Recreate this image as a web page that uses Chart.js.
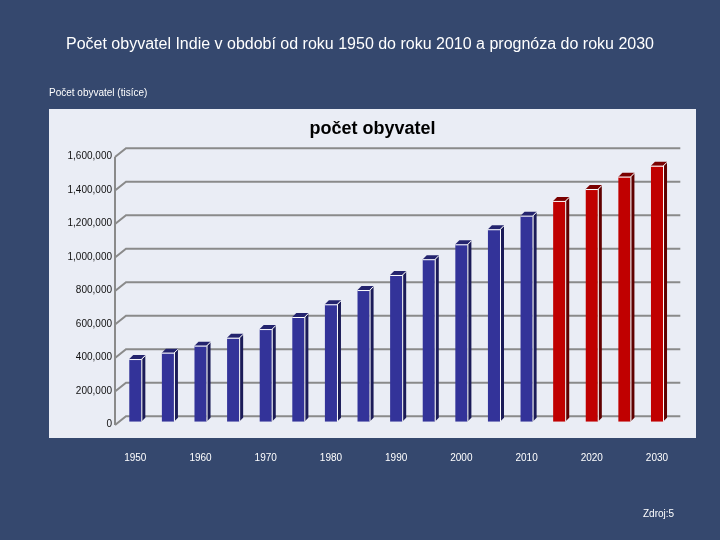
<!DOCTYPE html>
<html>
<head>
<meta charset="utf-8">
<script src="https://cdn.jsdelivr.net/npm/chart.js@4.4.1/dist/chart.umd.min.js"></script>
<style>
  body { margin: 0; background: rgb(53,72,110); overflow: hidden; font-family: 'Liberation Sans', Arial, sans-serif; }
  #wrap { position: relative; width: 720px; height: 540px; }
  canvas { position: absolute; left: 0; top: 0; }
  .txt { position: absolute; white-space: nowrap; }
  #title { left: 0; width: 720px; top: 34px; text-align: center; color: #fff; font-size: 16px; line-height: 20px; }
  #caption { left: 49px; top: 87px; color: #fff; font-size: 10px; line-height: 12px; }
  #ptitle { left: 49px; width: 647px; top: 117px; text-align: center; color: #000; font-size: 18px; font-weight: bold; line-height: 22px; }
  #zdroj { left: 643px; top: 508px; color: #fff; font-size: 10px; line-height: 12px; }
</style>
</head>
<body>
<div id="wrap">
  <canvas id="myChart" width="720" height="540"></canvas>
  <div class="txt" id="title">Počet obyvatel Indie v období od roku 1950 do roku 2010 a prognóza do roku 2030</div>
  <div class="txt" id="caption">Počet obyvatel (tisíce)</div>
  <div class="txt" id="ptitle">počet obyvatel</div>
  <div class="txt" id="zdroj">Zdroj:5</div>
</div>
<script>
// roky po 5 letech, popisky jen kazdych 10 let
const years = ['1950','1955','1960','1965','1970','1975','1980','1985','1990','1995','2000','2005','2010','2015','2020','2025','2030'];
// pocet obyvatel (tisice)
const populace = [374000, 412000, 454000, 501000, 553000, 625000, 701000, 786000, 876000, 970000, 1059000, 1149000, 1230000, 1318000, 1389000, 1463000, 1528000];
const lastActual = 2010;
const yMax = 1600000;
const yStep = 200000;

const blue = { front: '#333399', side: '#1b1b58', top: '#24246e' };
const red = { front: '#c00000', side: '#600000', top: '#7a0000' };
const pal = years.map(y => (+y > lastActual ? red : blue));

const DX = 4, DY = 4;

const panel = {
  id: 'panel',
  beforeDraw(chart) {
    const c = chart.ctx;
    c.save();
    c.fillStyle = 'rgb(53,72,110)';
    c.fillRect(0, 0, chart.width, chart.height);
    c.fillStyle = 'rgb(234,237,245)';
    c.fillRect(49, 109, 647, 329);
    c.restore();
  },
  beforeDatasetsDraw(chart) {
    // 3D grid: predni osa + zadni stena
    const c = chart.ctx, y = chart.scales.y, a = chart.chartArea;
    const axisX = a.left - 4, backX = a.left + 7;
    c.save();
    c.strokeStyle = '#8a8a8a';
    c.lineWidth = 2;
    y.ticks.forEach(t => {
      const p = y.getPixelForValue(t.value);
      c.beginPath();
      c.moveTo(axisX, p + 3.3);
      c.lineTo(backX, p - 5.5);
      c.lineTo(a.right + 7, p - 5.5);
      c.stroke();
    });
    c.beginPath();
    c.moveTo(axisX, y.getPixelForValue(yMax) + 3.3);
    c.lineTo(axisX, y.getPixelForValue(0) + 3.3);
    c.stroke();
    c.restore();
  },
  afterDatasetsDraw(chart) {
    const c = chart.ctx;
    const meta = chart.getDatasetMeta(0);
    c.save();
    meta.data.forEach((bar, i) => {
      const col = pal[i];
      const l = bar.x - bar.width / 2, r = bar.x + bar.width / 2;
      const t = bar.y, b = bar.base;
      // bok
      c.fillStyle = col.side;
      c.beginPath();
      c.moveTo(r, t); c.lineTo(r + DX, t - DY); c.lineTo(r + DX, b - DY); c.lineTo(r, b);
      c.closePath(); c.fill();
      // vrch
      c.fillStyle = col.top;
      c.beginPath();
      c.moveTo(l, t); c.lineTo(l + DX, t - DY); c.lineTo(r + DX, t - DY); c.lineTo(r, t);
      c.closePath(); c.fill();
      // svetla hrana
      c.strokeStyle = '#ffffff';
      c.lineWidth = 1;
      c.beginPath();
      c.moveTo(l, t + 0.5); c.lineTo(r, t + 0.5); c.lineTo(r + DX, t - DY + 0.5);
      c.moveTo(r + 0.5, t); c.lineTo(r + 0.5, b);
      c.stroke();
    });
    c.restore();
  }
};

const ctx = document.getElementById('myChart');

new Chart(ctx, {
  type: 'bar',
  data: {
    labels: years,
    datasets: [{
      label: 'počet obyvatel',
      data: populace,
      backgroundColor: pal.map(p => p.front),
      borderWidth: 0,
      barPercentage: 0.37,
      categoryPercentage: 1
    }]
  },
  options: {
    responsive: false,
    animation: false,
    devicePixelRatio: 1,
    layout: { padding: { left: 49, right: 46.7, top: 153.7, bottom: 78.3 } },
    plugins: {
      legend: { display: false },
      title: { display: false },
      tooltip: { enabled: false }
    },
    scales: {
      x: {
        grid: { display: false, drawTicks: false },
        border: { display: false },
        afterFit(s) { s.height = 40; },
        ticks: {
          color: '#ffffff',
          font: { family: "'Liberation Sans', Arial", size: 10 },
          padding: 31,
          autoSkip: false,
          maxRotation: 0,
          callback(val, i) { return i % 2 === 0 ? this.getLabelForValue(val) : ''; }
        }
      },
      y: {
        min: 0,
        max: yMax,
        grid: { display: false, drawTicks: false },
        border: { display: false },
        afterFit(s) { s.width = 70; },
        ticks: {
          stepSize: yStep,
          color: '#111111',
          font: { family: "'Liberation Sans', Arial", size: 10 },
          padding: 7,
          labelOffset: 3,
          callback: v => v.toLocaleString('en-US')
        }
      }
    }
  },
  plugins: [panel]
});
</script>
</body>
</html>
